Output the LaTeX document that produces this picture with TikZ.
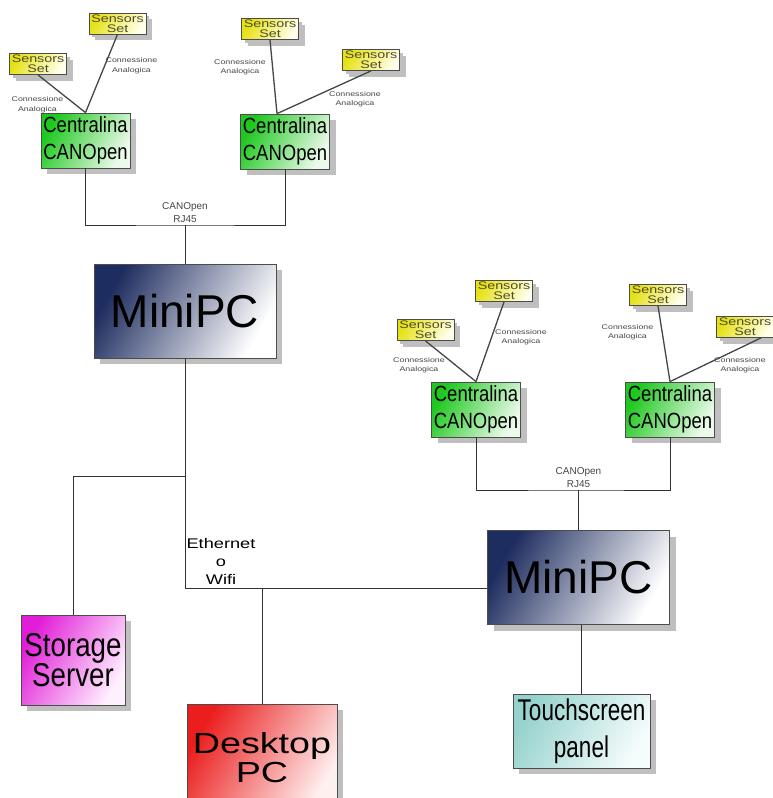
\documentclass[tikz,border=0pt]{standalone}
\usepackage{fontspec}
\setmainfont{Liberation Sans}
\newfontfamily\narrowfont[FakeStretch=0.84]{Liberation Sans}
\newfontfamily\slimfont[FakeStretch=0.75]{Liberation Sans}
\newfontfamily\widefont[FakeStretch=1.3]{Liberation Sans}
\usetikzlibrary{shadows}
\definecolor{navy}{RGB}{30,45,95}
\definecolor{cgreen}{RGB}{30,200,30}
\definecolor{cgreenl}{RGB}{235,250,235}
\definecolor{syellow}{RGB}{230,225,20}
\definecolor{syellowl}{RGB}{255,255,235}
\definecolor{smagenta}{RGB}{225,30,215}
\definecolor{smagental}{RGB}{255,240,255}
\definecolor{dred}{RGB}{235,30,30}
\definecolor{dredl}{RGB}{255,240,240}
\definecolor{tteal}{RGB}{150,210,205}
\definecolor{tteall}{RGB}{245,252,252}
\definecolor{sensortext}{RGB}{80,75,40}
\definecolor{labelgray}{RGB}{70,70,70}
\definecolor{wiregray}{RGB}{50,50,50}

\begin{document}
\begin{tikzpicture}[x=1pt,y=-1pt,
            grad/.style 2 args={left color=#1, right color=#2, shading angle=60},
            box/.style={draw=black!70, line width=0.8pt, inner sep=0pt, align=center,
              drop shadow={shadow xshift=6pt, shadow yshift=-6pt, fill=black!25, opacity=1}},
            sensorbox/.style={box, grad={syellow}{syellowl}, minimum width=57pt, minimum height=21pt,
              drop shadow={shadow xshift=3pt, shadow yshift=-3pt, fill=black!25, opacity=1},
              text=sensortext, font=\widefont\fontsize{11}{10}\selectfont},
            ctlbox/.style={box, grad={cgreen}{cgreenl}, minimum width=89pt, minimum height=55pt,
              font=\narrowfont\fontsize{22}{27}\selectfont},
            pcbox/.style={box, grad={navy}{white}, minimum width=182pt, minimum height=94pt,
              font=\fontsize{46}{50}\selectfont},
            lbl/.style={align=center, inner sep=0pt, text=labelgray, font=\widefont\fontsize{6.8}{9.5}\selectfont},
            buslbl/.style={align=center, inner sep=2.5pt, text=labelgray, font=\fontsize{10}{13}\selectfont},
            sline/.style={draw=labelgray, line width=1.3pt},
            wire/.style={draw=wiregray, line width=0.8pt}]
            \path[use as bounding box, fill=white] (0,0) rectangle (773,798);

            \node[ctlbox] (c1) at (85.5,140.5) {Centralina\\CANOpen};
            \node[sensorbox] (sA) at (38,64) {Sensors\\Set};
            \node[sensorbox] (sB) at (117.5,23.5) {Sensors\\Set};
            \draw[sline] (sA.south) -- (c1.north);
            \draw[sline] (sB.south) -- (c1.north);
            \node[lbl] (lA) at (37.5,104.5) {Connessione\\Analogica};
            \node[lbl] (lB) at (131.5,65.5) {Connessione\\Analogica};

            \node[ctlbox] (c2) at (285,141.5) {Centralina\\CANOpen};
            \node[sensorbox] (sC) at (270,29) {Sensors\\Set};
            \node[sensorbox] (sD) at (371,60) {Sensors\\Set};
            \draw[sline] (sC.south) -- ([xshift=-8pt]c2.north);
            \draw[sline] (sD.south) -- ([xshift=-8pt]c2.north);
            \node[lbl] (lC) at (240,67) {Connessione\\Analogica};
            \node[lbl] (lD) at (355,99) {Connessione\\Analogica};

            \node[pcbox] (mp1) at (185,311) {MiniPC};
            \coordinate (bus1) at (185,225);
            \draw[wire] (c1.south) |- (bus1) -| (c2.south);
            \draw[wire] (bus1) node[buslbl, above] {CANOpen\\RJ45} -- (mp1.north);

            \node[ctlbox] (c3) at (476,409.5) {Centralina\\CANOpen};
            \node[sensorbox] (sE) at (425.5,330) {Sensors\\Set};
            \node[sensorbox] (sF) at (504,291) {Sensors\\Set};
            \draw[sline] (sE.south) -- (c3.north);
            \draw[sline] (sF.south) -- (c3.north);
            \node[lbl] (lE) at (419,365) {Connessione\\Analogica};
            \node[lbl] (lF) at (521,337) {Connessione\\Analogica};

            \node[ctlbox] (c4) at (670,409.5) {Centralina\\CANOpen};
            \node[sensorbox] (sG) at (658,295) {Sensors\\Set};
            \node[sensorbox] (sH) at (745,327) {Sensors\\Set};
            \draw[sline] (sG.south) -- (c4.north);
            \draw[sline] ([xshift=16pt]sH.south) -- (c4.north);
            \node[lbl] (lG) at (627.5,332) {Connessione\\Analogica};
            \node[lbl] (lH) at (740,365) {Connessione\\Analogica};

            \node[pcbox] (mp2) at (578.5,577.5) {MiniPC};
            \coordinate (bus2) at (578.5,490);
            \draw[wire] (c3.south) |- (bus2) -| (c4.south);
            \draw[wire] (bus2) node[buslbl, above] {CANOpen\\RJ45} -- (mp2.north);

            \node[box, grad={smagenta}{smagental}, minimum width=104pt, minimum height=90pt,
              font=\narrowfont\fontsize{33}{30}\selectfont] (stor) at (73,660) {Storage\\Server};
            \node[box, grad={dred}{dredl}, minimum width=150pt, minimum height=108pt,
              font=\widefont\fontsize{29}{29}\selectfont] (desk) at (262,758) {Desktop\\PC};
            \node[box, grad={tteal}{tteall}, minimum width=137pt, minimum height=74pt,
              font=\slimfont\fontsize{30}{37}\selectfont] (touch) at (581.5,731) {Touchscreen\\panel};

            \coordinate (sto) at (185,476);
            \coordinate (eth) at (185,588);
            \draw[wire] (mp1.south) -- (eth);
            \draw[wire] (sto) -| (stor.north);
            \draw[wire] (eth) -- (eth -| mp2.west);
            \draw[wire] (eth -| desk.north) -- (desk.north);
            \draw[wire] (touch.north |- mp2.south) -- (touch.north);
            \node[align=center, inner sep=0pt, font=\widefont\fontsize{14}{18}\selectfont] (ethlbl) at (221,561) {Ethernet\\o\\Wifi};
        \end{tikzpicture}
\end{document}
